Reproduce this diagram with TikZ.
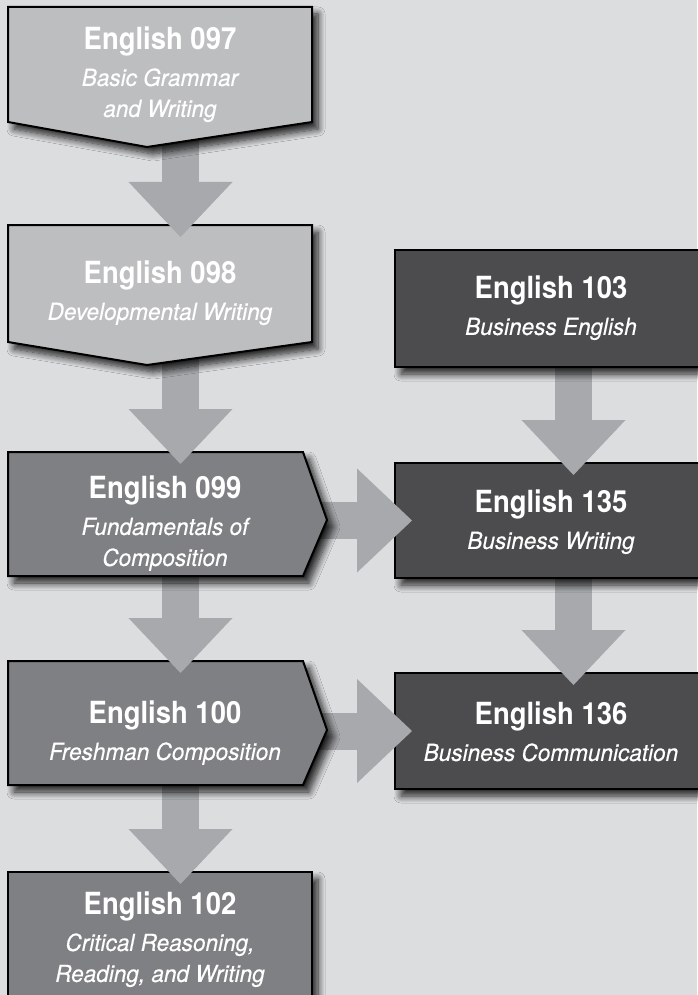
\documentclass[tikz,border=0pt]{standalone}
\usepackage{fontspec}
\newfontfamily\titlefont{TeX Gyre Heros}[FakeStretch=0.9]
\newfontfamily\subfont{TeX Gyre Heros}[FakeStretch=0.96, FakeBold=0.4]
\usetikzlibrary{positioning,calc,arrows.meta,shadows.blur}

\definecolor{bgcol}{RGB}{220,221,223}
\definecolor{lightcol}{RGB}{189,190,192}
\definecolor{midcol}{RGB}{127,128,131}
\definecolor{darkcol}{RGB}{76,76,78}
\definecolor{arrowcol}{RGB}{167,169,172}

\def\course#1{{\fontsize{30.5}{35}\selectfont\titlefont\bfseries\upshape English #1}\\[5pt]}

\begin{document}
\begin{tikzpicture}[x=1pt, y=-1pt]
        \tikzstyle{frame}=[rectangle, inner sep=0pt, outer sep=0pt]
        \tikzstyle{box}=[draw=black, line width=2pt, blur shadow={shadow xshift=6pt, shadow yshift=-7pt, shadow blur radius=7pt, shadow blur steps=10, shadow opacity=85}]
        \tikzstyle{lightbox}=[box, fill=lightcol]
        \tikzstyle{midbox}=[box, fill=midcol]
        \tikzstyle{darkbox}=[box, fill=darkcol]
        \tikzstyle{conn}=[draw=arrowcol, line width=37pt, -{Triangle[length=55pt, width=104pt, line width=0pt]}, shorten >=-12pt]
        \tikzstyle{caption}=[text=white, align=center, inner sep=0pt, font={\fontsize{23.5}{31}\selectfont\subfont\itshape}]

        \useasboundingbox (0,0) rectangle (697,995);
        \fill[bgcol] (0,0) rectangle (697,995);

        \coordinate (lane) at (180.5,0);
        \coordinate (rlane) at (573.5,0);

        \node[frame, minimum width=304pt, minimum height=115pt] (b097) at (160,64.5) {};
        \node[frame, minimum width=304pt, minimum height=117pt] (b098) at (160,283.5) {};
        \node[frame, minimum width=295pt, minimum height=124pt] (b099) at (155.5,514) {};
        \node[frame, minimum width=295pt, minimum height=124pt] (b100) at (155.5,723) {};
        \node[frame, minimum width=304pt, minimum height=136pt] (b102) at (160,940) {};
        \node[frame, minimum width=312pt, minimum height=117pt] (b103) at (551,308.5) {};
        \node[frame, minimum width=312pt, minimum height=115pt] (b135) at (551,520.5) {};
        \node[frame, minimum width=312pt, minimum height=116pt] (b136) at (551,731) {};

        \path[midbox] (b102.north west) rectangle (b102.south east);
        \path[darkbox] (b136.north west) rectangle (b136.south east);
        \draw[conn] (b100.south -| lane) -- (b102.north -| lane);
        \draw[conn, shorten >=-17pt] (b100.east |- b136.west) -- (b136.west);
        \draw[conn] (b135.south -| rlane) -- (b136.north -| rlane);
        \path[midbox] (b100.north west) -- (b100.north east) -- ($(b100.east)+(24,7)$) -- (b100.south east) -- (b100.south west) -- cycle;
        \path[darkbox] (b135.north west) rectangle (b135.south east);
        \draw[conn] (b099.south -| lane) -- (b100.north -| lane);
        \draw[conn, shorten >=-17pt] (b099.east |- b135.west) -- (b135.west);
        \draw[conn] (b103.south -| rlane) -- (b135.north -| rlane);
        \path[midbox] (b099.north west) -- (b099.north east) -- ($(b099.east)+(24,6)$) -- (b099.south east) -- (b099.south west) -- cycle;
        \path[darkbox] (b103.north west) rectangle (b103.south east);
        \draw[conn] (b098.south -| lane) -- (b099.north -| lane);
        \path[lightbox] (b098.north west) -- (b098.north east) -- (b098.south east) -- ($(b098.south)+(-13,23)$) -- (b098.south west) -- cycle;
        \draw[conn] (b097.south -| lane) -- (b098.north -| lane);
        \path[lightbox] (b097.north west) -- (b097.north east) -- (b097.south east) -- ($(b097.south)+(-13,25)$) -- (b097.south west) -- cycle;

        \node[caption, below=20pt of b097.north] (t097) {\course{097}Basic Grammar\\and Writing};
        \node[caption, below=36pt of b098.north] (t098) {\course{098}Developmental Writing};
        \node[caption, below=24pt of b099.north, xshift=9.5pt] (t099) {\course{099}Fundamentals of\\Composition};
        \node[caption, below=40pt of b100.north, xshift=9.5pt] (t100) {\course{100}Freshman Composition};
        \node[caption, below=20pt of b102.north] (t102) {\course{102}Critical Reasoning,\\Reading, and Writing};
        \node[caption, below=26pt of b103.north] (t103) {\course{103}Business English};
        \node[caption, below=27pt of b135.north] (t135) {\course{135}Business Writing};
        \node[caption, below=29pt of b136.north] (t136) {\course{136}Business Communication};
\end{tikzpicture}
\end{document}
